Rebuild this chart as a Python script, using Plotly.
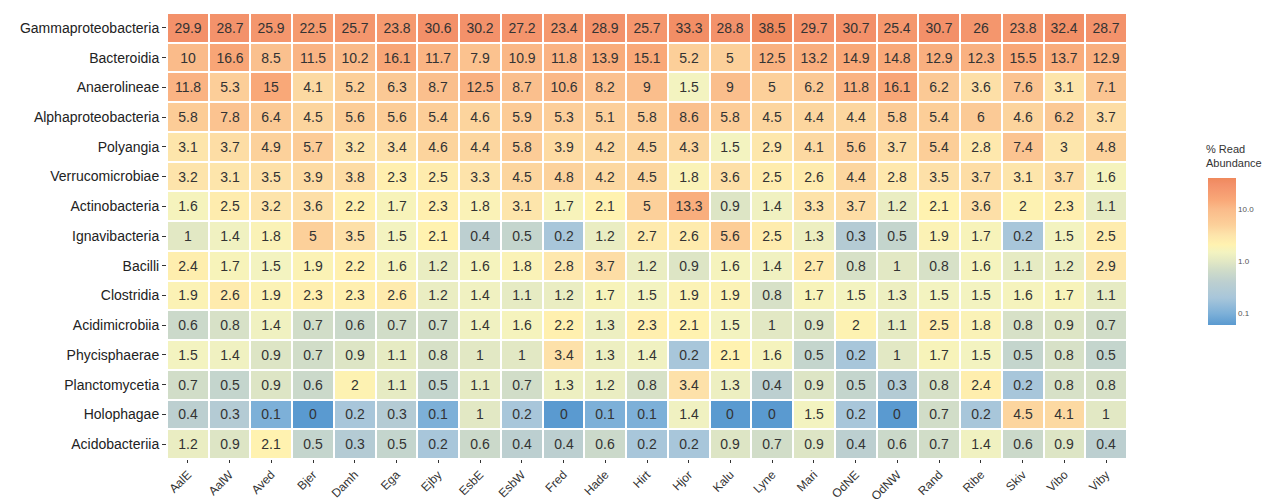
import numpy as np
import plotly.graph_objects as go

samples = ["AalE", "AalW", "Aved", "Bjer", "Damh", "Ega", "Ejby", "EsbE", "EsbW", "Fred",
           "Hade", "Hirt", "Hjor", "Kalu", "Lyne", "Mari", "OdNE", "OdNW", "Rand", "Ribe",
           "Skiv", "Vibo", "Viby"]

taxa = ["Gammaproteobacteria", "Bacteroidia", "Anaerolineae", "Alphaproteobacteria",
        "Polyangia", "Verrucomicrobiae", "Actinobacteria", "Ignavibacteria", "Bacilli",
        "Clostridia", "Acidimicrobiia", "Phycisphaerae", "Planctomycetia", "Holophagae",
        "Acidobacteriia"]

gammaproteobacteria = [29.9, 28.7, 25.9, 22.5, 25.7, 23.8, 30.6, 30.2, 27.2, 23.4, 28.9, 25.7, 33.3, 28.8, 38.5, 29.7, 30.7, 25.4, 30.7, 26, 23.8, 32.4, 28.7]
bacteroidia = [10, 16.6, 8.5, 11.5, 10.2, 16.1, 11.7, 7.9, 10.9, 11.8, 13.9, 15.1, 5.2, 5, 12.5, 13.2, 14.9, 14.8, 12.9, 12.3, 15.5, 13.7, 12.9]
anaerolineae = [11.8, 5.3, 15, 4.1, 5.2, 6.3, 8.7, 12.5, 8.7, 10.6, 8.2, 9, 1.5, 9, 5, 6.2, 11.8, 16.1, 6.2, 3.6, 7.6, 3.1, 7.1]
alphaproteobacteria = [5.8, 7.8, 6.4, 4.5, 5.6, 5.6, 5.4, 4.6, 5.9, 5.3, 5.1, 5.8, 8.6, 5.8, 4.5, 4.4, 4.4, 5.8, 5.4, 6, 4.6, 6.2, 3.7]
polyangia = [3.1, 3.7, 4.9, 5.7, 3.2, 3.4, 4.6, 4.4, 5.8, 3.9, 4.2, 4.5, 4.3, 1.5, 2.9, 4.1, 5.6, 3.7, 5.4, 2.8, 7.4, 3, 4.8]
verrucomicrobiae = [3.2, 3.1, 3.5, 3.9, 3.8, 2.3, 2.5, 3.3, 4.5, 4.8, 4.2, 4.5, 1.8, 3.6, 2.5, 2.6, 4.4, 2.8, 3.5, 3.7, 3.1, 3.7, 1.6]
actinobacteria = [1.6, 2.5, 3.2, 3.6, 2.2, 1.7, 2.3, 1.8, 3.1, 1.7, 2.1, 5, 13.3, 0.9, 1.4, 3.3, 3.7, 1.2, 2.1, 3.6, 2, 2.3, 1.1]
ignavibacteria = [1, 1.4, 1.8, 5, 3.5, 1.5, 2.1, 0.4, 0.5, 0.2, 1.2, 2.7, 2.6, 5.6, 2.5, 1.3, 0.3, 0.5, 1.9, 1.7, 0.2, 1.5, 2.5]
bacilli = [2.4, 1.7, 1.5, 1.9, 2.2, 1.6, 1.2, 1.6, 1.8, 2.8, 3.7, 1.2, 0.9, 1.6, 1.4, 2.7, 0.8, 1, 0.8, 1.6, 1.1, 1.2, 2.9]
clostridia = [1.9, 2.6, 1.9, 2.3, 2.3, 2.6, 1.2, 1.4, 1.1, 1.2, 1.7, 1.5, 1.9, 1.9, 0.8, 1.7, 1.5, 1.3, 1.5, 1.5, 1.6, 1.7, 1.1]
acidimicrobiia = [0.6, 0.8, 1.4, 0.7, 0.6, 0.7, 0.7, 1.4, 1.6, 2.2, 1.3, 2.3, 2.1, 1.5, 1, 0.9, 2, 1.1, 2.5, 1.8, 0.8, 0.9, 0.7]
phycisphaerae = [1.5, 1.4, 0.9, 0.7, 0.9, 1.1, 0.8, 1, 1, 3.4, 1.3, 1.4, 0.2, 2.1, 1.6, 0.5, 0.2, 1, 1.7, 1.5, 0.5, 0.8, 0.5]
planctomycetia = [0.7, 0.5, 0.9, 0.6, 2, 1.1, 0.5, 1.1, 0.7, 1.3, 1.2, 0.8, 3.4, 1.3, 0.4, 0.9, 0.5, 0.3, 0.8, 2.4, 0.2, 0.8, 0.8]
holophagae = [0.4, 0.3, 0.1, 0, 0.2, 0.3, 0.1, 1, 0.2, 0, 0.1, 0.1, 1.4, 0, 0, 1.5, 0.2, 0, 0.7, 0.2, 4.5, 4.1, 1]
acidobacteriia = [1.2, 0.9, 2.1, 0.5, 0.3, 0.5, 0.2, 0.6, 0.4, 0.4, 0.6, 0.2, 0.2, 0.9, 0.7, 0.9, 0.4, 0.6, 0.7, 1.4, 0.6, 0.9, 0.4]

values = np.array([gammaproteobacteria, bacteroidia, anaerolineae, alphaproteobacteria,
                   polyangia, verrucomicrobiae, actinobacteria, ignavibacteria, bacilli,
                   clostridia, acidimicrobiia, phycisphaerae, planctomycetia, holophagae,
                   acidobacteriia], dtype=float)

# log colour scale, zeros clipped to the bottom of the bar
vmin, vmax = 0.06, 40
zlog = np.log10(np.clip(values, vmin, vmax))
labels = [["{:g}".format(v) for v in row] for row in values]

stops = [(0.06, "#5a9ad0"), (0.1, "#7db0d8"), (0.2, "#a8c6da"), (0.4, "#bccfd0"),
         (0.7, "#d1ddc8"), (1.0, "#e2e8c4"), (1.5, "#f3f3c0"), (2.1, "#fff2b0"),
         (3.2, "#fde4ab"), (5, "#fcd09a"), (10, "#fabb8a"), (15, "#f9a878"),
         (30, "#f3916a"), (40, "#ef895c")]
lo, hi = np.log10(vmin), np.log10(vmax)
colorscale = [[(np.log10(v) - lo) / (hi - lo), c] for v, c in stops]

font = "Liberation Sans, Arial, sans-serif"
W, H = 1277, 503
L, R, T, B = 159, 158, 5, 52
pw, ph = W - L - R, H - T - B

fig = go.Figure(go.Heatmap(
    z=zlog, x=samples, y=taxa, text=labels, texttemplate="%{text}",
    textfont=dict(family=font, size=14, color="#333333"),
    colorscale=colorscale, zmin=lo, zmax=hi, xgap=2, ygap=2,
    colorbar=dict(
        lenmode="pixels", len=147, thickness=28,
        x=(1200 - L) / pw, xanchor="left", xpad=0,
        y=(H - B - 243.5) / ph, yanchor="middle", ypad=0,
        tickvals=[-1, 0, 1], ticktext=["0.1", "1.0", "10.0"], ticks="",
        tickfont=dict(family=font, size=8, color="#555555"),
        outlinewidth=0,
    ),
    hovertemplate="%{y} / %{x}: %{text}%<extra></extra>",
))

fig.add_annotation(
    text="% Read<br>Abundance", xref="paper", yref="paper",
    x=(1196 - L) / pw, y=(H - B - 133) / ph, xanchor="left", yanchor="top",
    showarrow=False, align="left",
    font=dict(family=font, size=11, color="#333333"),
)

fig.update_layout(
    width=W, height=H, margin=dict(l=L, r=R, t=T, b=B),
    paper_bgcolor="white", plot_bgcolor="white",
    font=dict(family=font),
)
fig.update_xaxes(tickangle=-45, ticks="outside", ticklen=3, tickcolor="#333333",
                 tickfont=dict(family=font, size=12, color="#333333"),
                 showgrid=False, zeroline=False, showline=False)
fig.update_yaxes(autorange="reversed", ticks="outside", ticklen=4, tickcolor="#333333",
                 tickfont=dict(family=font, size=14, color="#222222"),
                 showgrid=False, zeroline=False, showline=False)

fig.write_html("out.html")
